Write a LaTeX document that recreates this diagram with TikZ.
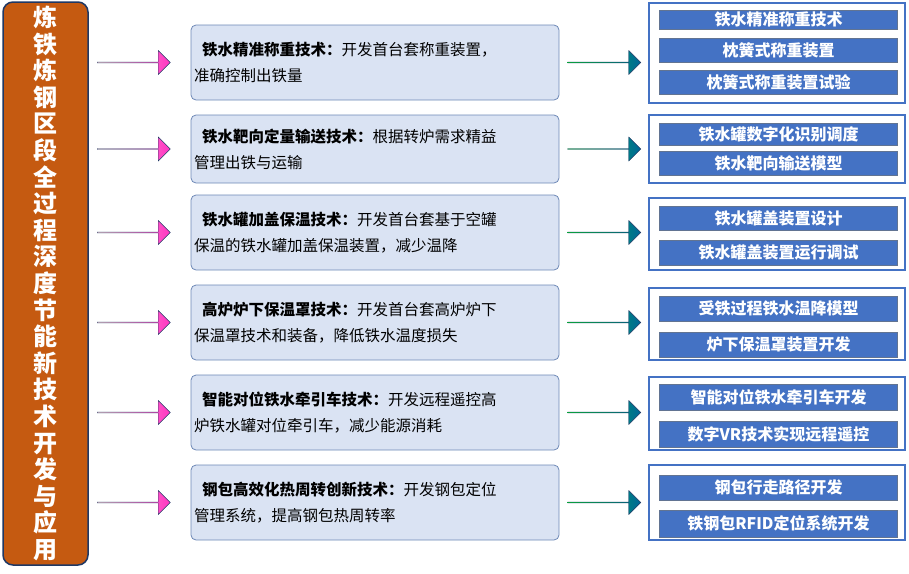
\documentclass[tikz,border=0pt]{standalone}
\usepackage{fontspec}
\setmainfont{Noto Sans CJK SC}
\XeTeXlinebreaklocale "zh"
\usetikzlibrary{shapes.arrows, positioning}
\definecolor{barcolor}{RGB}{197, 90, 17}
\definecolor{framecolor}{RGB}{31, 56, 100}
\definecolor{techfill}{RGB}{218, 227, 243}
\definecolor{techdraw}{RGB}{47, 85, 151}
\definecolor{itemcolor}{RGB}{68, 114, 196}

\begin{document}
\begin{tikzpicture}[
  x = 1pt, y = -1pt,
  tech/.style = {
    rectangle,
    rounded corners = 5pt,
    draw = techdraw!70,
    fill = techfill,
    thick,
    text width = 362pt,
    align = left,
    inner sep = 3pt,
    font = \fontsize{15.5}{26}\selectfont
  },
  group/.style = {
    rectangle,
    draw = itemcolor,
    line width = 2.5pt,
    minimum width = 256pt
  },
  item/.style = {
    rectangle,
    draw = framecolor!70,
    fill = itemcolor,
    text = white,
    font = \fontsize{16}{18}\selectfont\bfseries,
    minimum width = 238pt,
    inner sep = 0pt
  },
  inarrow/.style = {
    single arrow,
    draw = framecolor,
    left color = pink!60,
    right color = magenta!70!red!80,
    minimum width = 24pt,
    single arrow head extend = 5pt,
    single arrow head indent = 0pt,
    minimum height = 73pt,
    inner sep = 0pt
  },
  outarrow/.style = {
    inarrow,
    left color = green!70!teal,
    right color = teal!80!blue
  }
]
\useasboundingbox (0,0) rectangle (909,573);

% Left bar
\node[rectangle, rounded corners = 10pt, draw = framecolor, line width = 1.5pt,
  fill = barcolor, minimum width = 85pt, minimum height = 563pt] (title) at (45.5,283.5) {};
\node[text = white, text width = 26pt, align = center,
  font = \fontsize{24}{26.6}\selectfont\bfseries] (titletext) at (title)
  {炼铁炼钢区段全过程深度节能新技术开发与应用};

% Middle boxes
\node[tech, minimum height = 75pt] (t1) at (375,62.5) {\hspace{8pt}\textbf{铁水精准称重技术：}开发首台套称重装置，\\准确控制出铁量};
\node[tech, minimum height = 68pt] (t2) at (375,149) {\hspace{8pt}\textbf{铁水靶向定量输送技术：}根据转炉需求精益\\管理出铁与运输};
\node[tech, minimum height = 75pt] (t3) at (375,232.5) {\hspace{8pt}\textbf{铁水罐加盖保温技术：}开发首台套基于空罐\\保温的铁水罐加盖保温装置，减少温降};
\node[tech, minimum height = 75pt] (t4) at (375,322.5) {\hspace{8pt}\textbf{高炉炉下保温罩技术：}开发首台套高炉炉下\\保温罩技术和装备，降低铁水温度损失};
\node[tech, minimum height = 75pt] (t5) at (375,412.5) {\hspace{8pt}\textbf{智能对位铁水牵引车技术：}开发远程遥控高\\炉铁水罐对位牵引车，减少能源消耗};
\node[tech, minimum height = 75pt] (t6) at (375,502.5) {\hspace{8pt}\textbf{钢包高效化热周转创新技术：}开发钢包定位\\管理系统，提高钢包热周转率};

% Right groups
\node[group, minimum height = 100pt] (g1) at (777,53) {};
\node[group, minimum height = 68pt] (g2) at (777,149) {};
\node[group, minimum height = 72pt] (g3) at (777,234) {};
\node[group, minimum height = 72pt] (g4) at (777,324) {};
\node[group, minimum height = 73pt] (g5) at (777,413.5) {};
\node[group, minimum height = 75pt] (g6) at (777,502.5) {};

\node[item, minimum height = 19pt] (i11) at (778.5,19.5) {铁水精准称重技术};
\node[item, minimum height = 24pt] (i12) at (778.5,50) {枕簧式称重装置};
\node[item, minimum height = 24pt] (i13) at (778.5,82) {枕簧式称重装置试验};
\node[item, minimum height = 22pt] (i21) at (778.5,134) {铁水罐数字化识别调度};
\node[item, minimum height = 24pt] (i22) at (778.5,163) {铁水靶向输送模型};
\node[item, minimum height = 24pt] (i31) at (778.5,218) {铁水罐盖装置设计};
\node[item, minimum height = 25pt] (i32) at (778.5,252.5) {铁水罐盖装置运行调试};
\node[item, minimum height = 25pt] (i41) at (778.5,308.5) {受铁过程铁水温降模型};
\node[item, minimum height = 25pt] (i42) at (778.5,344.5) {炉下保温罩装置开发};
\node[item, minimum height = 26pt] (i51) at (778.5,397) {智能对位铁水牵引车开发};
\node[item, minimum height = 26pt] (i52) at (778.5,434) {数字VR技术实现远程遥控};
\node[item, minimum height = 25pt] (i61) at (778.5,487.5) {钢包行走路径开发};
\node[item, minimum height = 27pt] (i62) at (778.5,523.5) {铁钢包RFID定位系统开发};

% Arrows
\foreach \n/\y in {1/62.5, 2/149, 3/232.5, 4/322.5, 5/412.5, 6/502.5} {
  \node[inarrow] (in\n) at (133.5,\y) {};
  \node[outarrow] (out\n) at (604,\y) {};
}
\end{tikzpicture}
\end{document}
